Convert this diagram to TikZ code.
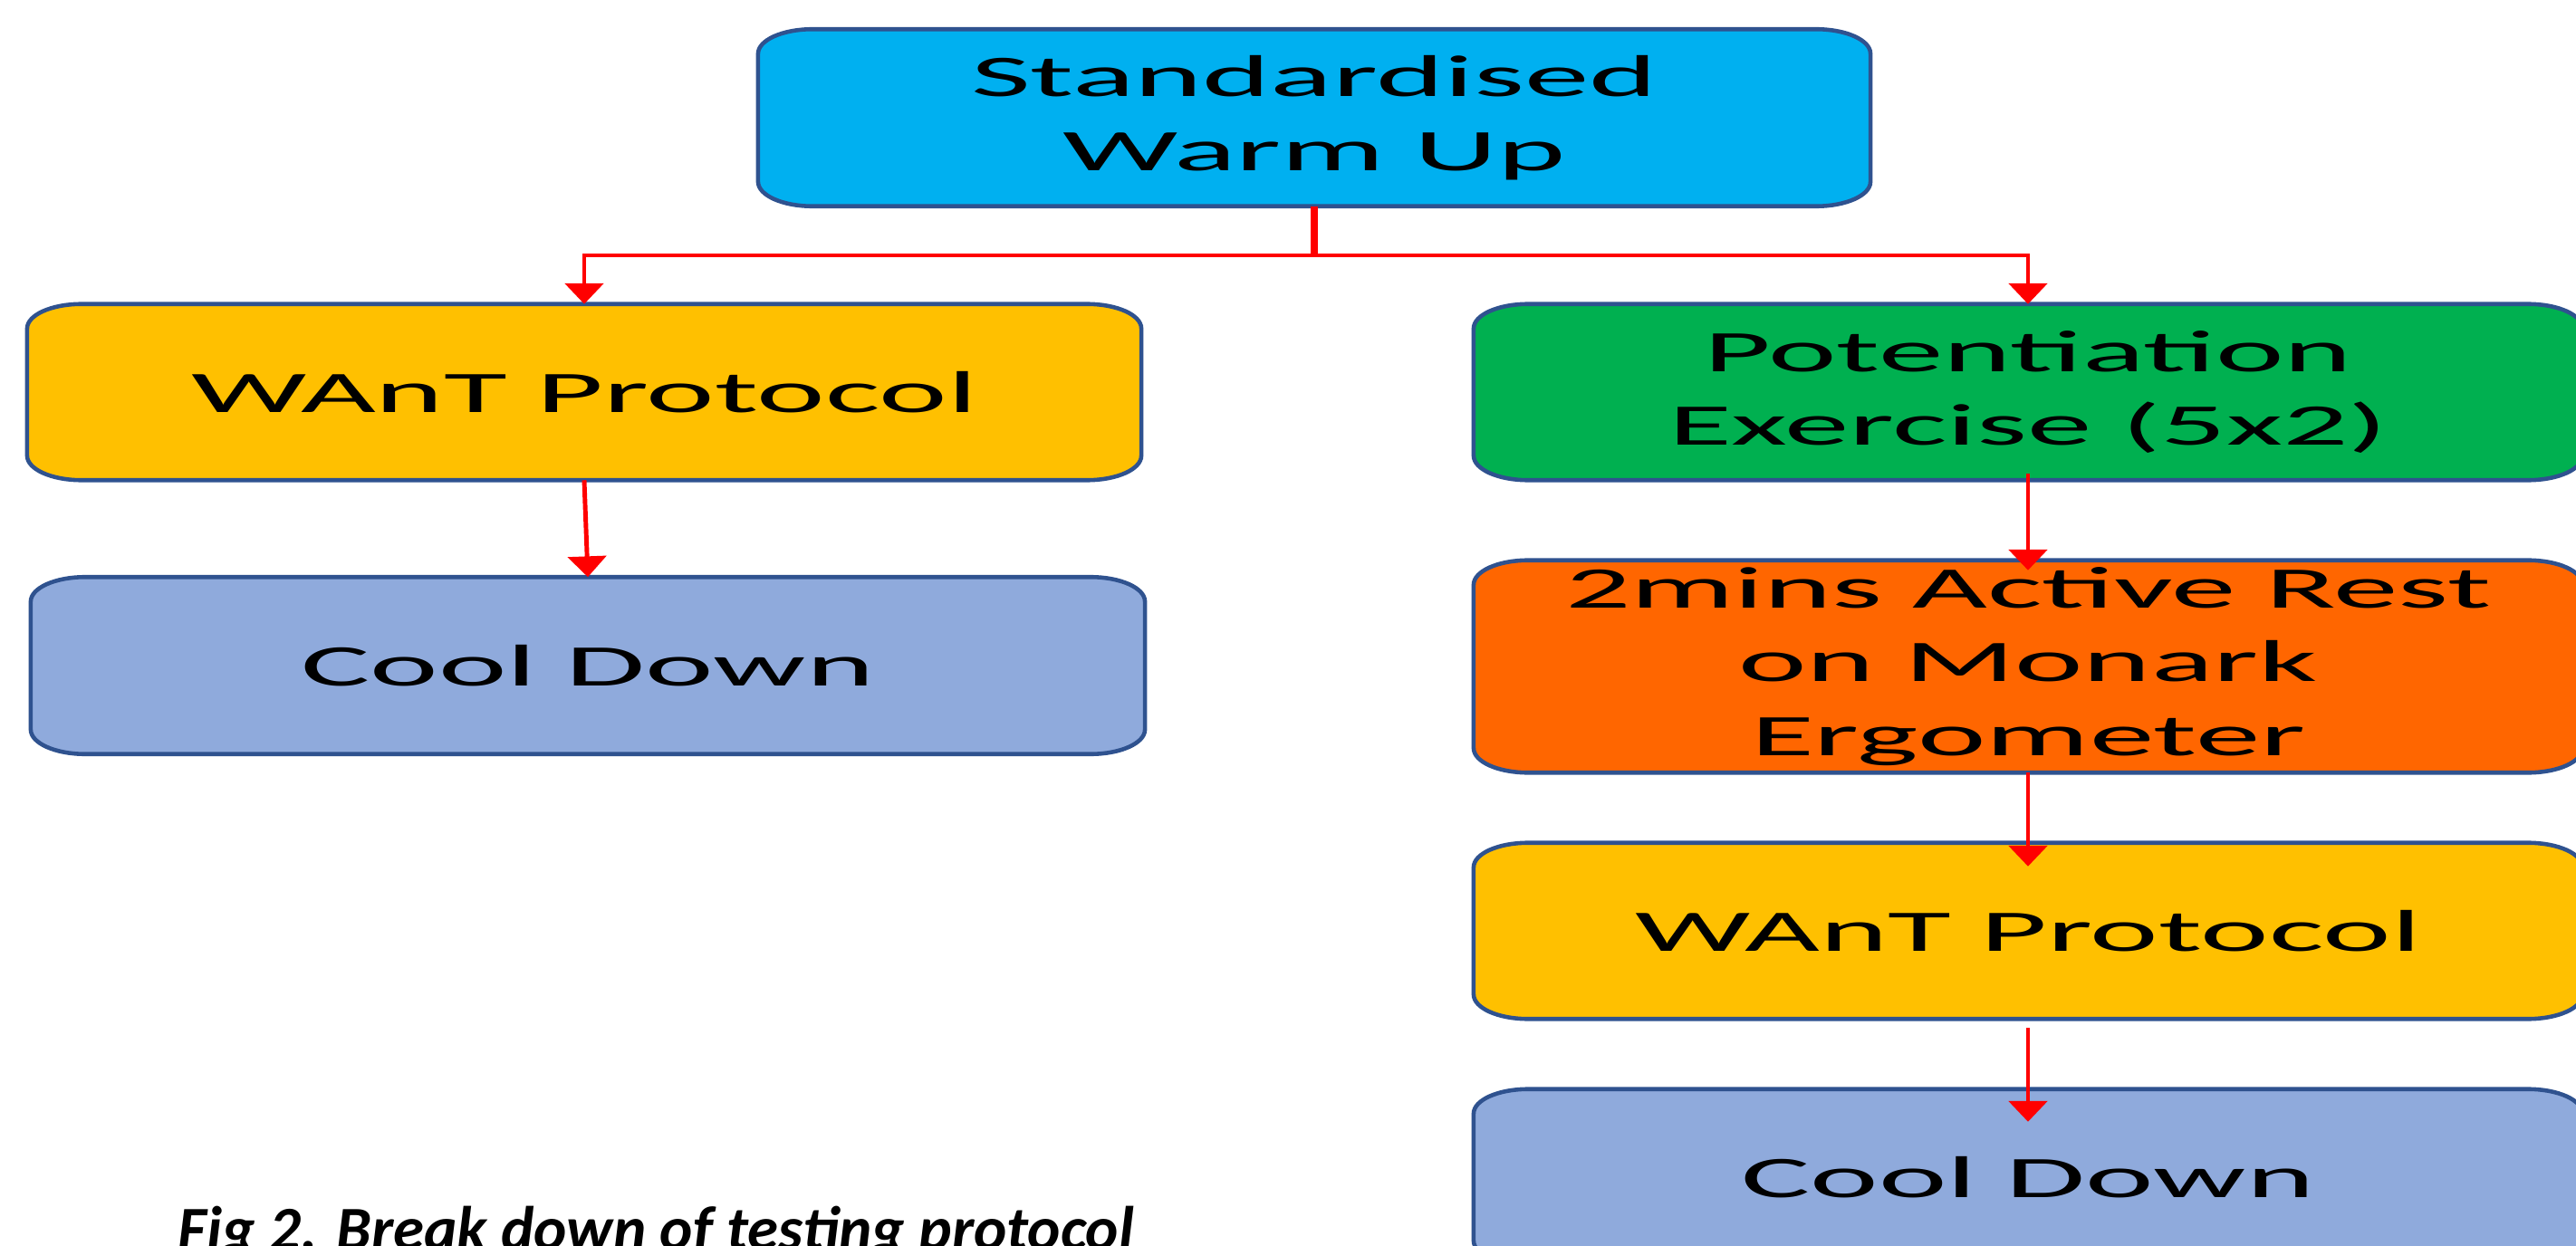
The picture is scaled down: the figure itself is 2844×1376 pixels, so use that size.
\documentclass[tikz,border=0pt]{standalone}
\usepackage{fontspec}
\setmainfont{Carlito}
\newfontfamily\boxfont[FakeStretch=2.2]{Carlito}
\usetikzlibrary{arrows.meta}
\pgfdeclarelayer{background}
\pgfsetlayers{background,main}
\definecolor{bordercol}{HTML}{2F528F}
\definecolor{skyc}{HTML}{00B0F0}
\definecolor{yellowc}{HTML}{FFC000}
\definecolor{greenc}{HTML}{00B050}
\definecolor{orangec}{HTML}{FF6600}
\definecolor{bluec}{HTML}{8FAADC}
\definecolor{redc}{HTML}{FF0000}
\def\erx{0.6cm}
\def\ery{0.27cm}
\newcommand\ellbox[2]{%
  \path[draw=bordercol, line width=1.3pt, fill=#2]
    ([xshift=\erx]#1.south west) -- ([xshift=-\erx]#1.south east)
    arc[start angle=-90, end angle=0, x radius=\erx, y radius=\ery]
    -- ([yshift=-\ery]#1.north east)
    arc[start angle=0, end angle=90, x radius=\erx, y radius=\ery]
    -- ([xshift=\erx]#1.north west)
    arc[start angle=90, end angle=180, x radius=\erx, y radius=\ery]
    -- ([yshift=\ery]#1.south west)
    arc[start angle=180, end angle=270, x radius=\erx, y radius=\ery]
    -- cycle;}
\tikzset{
  stepbox/.style={rectangle, inner sep=0pt, align=center, text=black,
    font=\boxfont\fontsize{18.5pt}{23.2pt}\selectfont},
  conn/.style={draw=redc, line width=1.4pt, -{Triangle[width=12pt,length=6.5pt]}},
  capt/.style={font=\bfseries\itshape\fontsize{19.6pt}{24pt}\selectfont, text=black, inner sep=0pt}
}
\begin{document}
\begin{tikzpicture}[x=0.01cm, y=-0.01cm]
\useasboundingbox (0,0) rectangle (2844,1376);
\clip (0,0) rectangle (2844,1376);

\node[stepbox, minimum width=12.26cm, minimum height=1.94cm] (top) at (1451,130) {Standardised\\Warm Up};
\node[stepbox, minimum width=12.28cm, minimum height=1.93cm] (L1) at (645,433) {WAnT Protocol};
\node[stepbox, minimum width=12.28cm, minimum height=1.94cm] (L2) at (649,735) {Cool Down};
\node[stepbox, minimum width=12.22cm, minimum height=1.93cm] (R1) at (2239,433) {Potentiation\\Exercise (5x2)};
\node[stepbox, minimum width=12.22cm, minimum height=2.33cm] (R2) at (2239,736) {2mins Active Rest\\on Monark\\Ergometer};
\node[stepbox, minimum width=12.22cm, minimum height=1.93cm] (R3) at (2239,1028) {WAnT Protocol};
\node[stepbox, minimum width=12.22cm, minimum height=1.93cm] (R4) at (2239,1300) {Cool Down};

\begin{pgfonlayer}{background}
\fill[white] (0,0) rectangle (2844,1376);
\ellbox{top}{skyc}
\ellbox{L1}{yellowc}
\ellbox{L2}{bluec}
\ellbox{R1}{greenc}
\ellbox{R2}{orangec}
\ellbox{R3}{yellowc}
\ellbox{R4}{bluec}
\end{pgfonlayer}

\coordinate (bus) at (1451,282);
\draw[draw=redc, line width=2.4pt] (top.south) -- (top.south |- bus);
\draw[conn] (top.south |- bus) -| (L1.north);
\draw[conn] (top.south |- bus) -| (R1.north);
\draw[conn] (L1.south) -- (L2.north);
\draw[conn] ([yshift=0.07cm]R1.south) -- ([yshift=-0.11cm]R2.north);
\draw[conn] (R2.south) -- ([yshift=-0.26cm]R3.north);
\draw[conn] ([yshift=-0.10cm]R3.south) -- ([yshift=-0.36cm]R4.north);

\node[capt, anchor=base west] (cap) at (196,1380) {Fig 2. Break down of testing protocol};
\end{tikzpicture}
\end{document}
